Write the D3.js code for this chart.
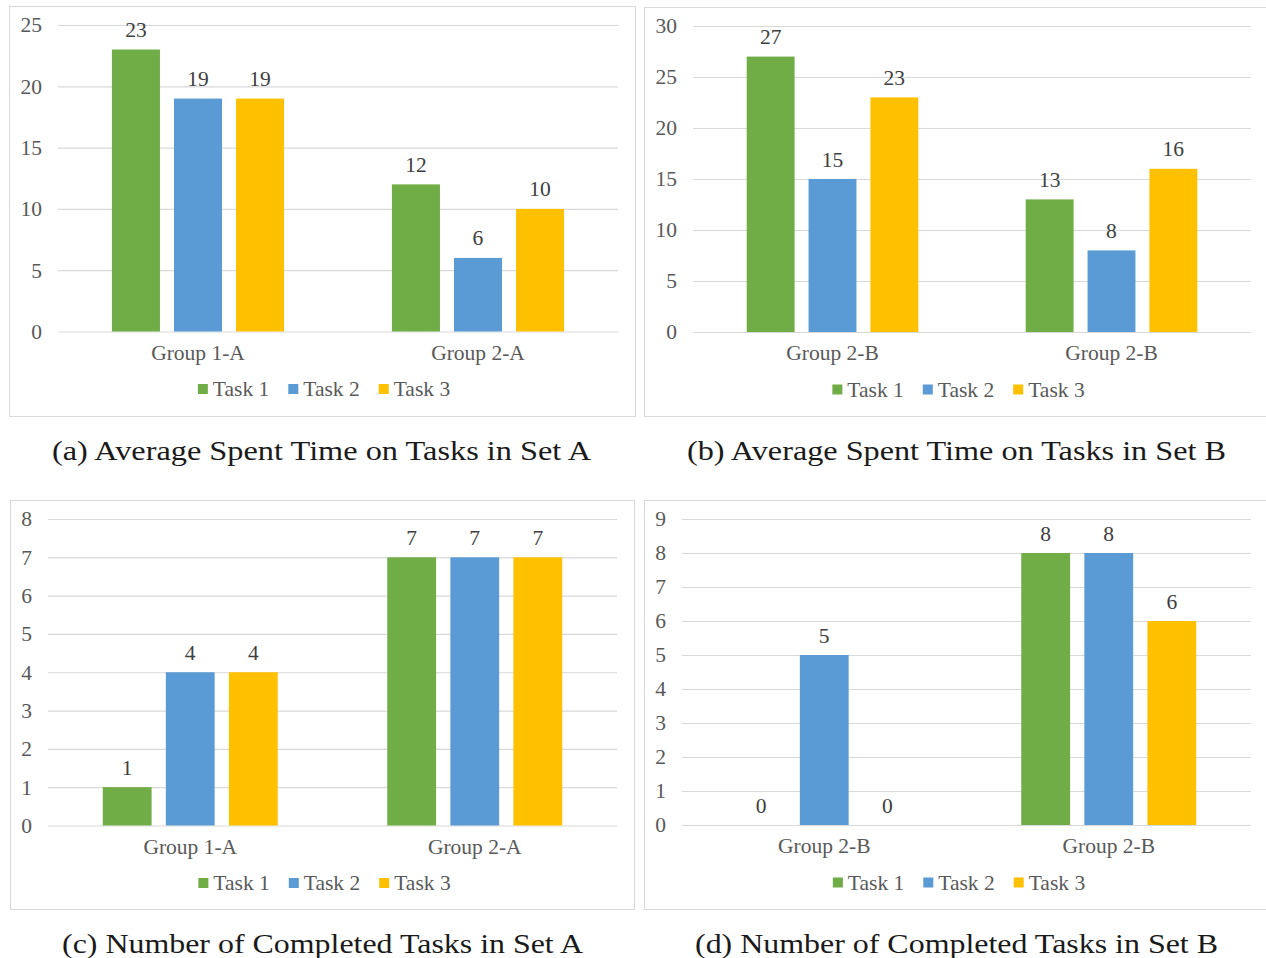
<!DOCTYPE html>
<html>
<head>
<meta charset="utf-8">
<script src="https://cdn.jsdelivr.net/npm/d3@7/dist/d3.min.js"></script>
<style>
  html, body { margin: 0; padding: 0; background: #fff; }
  svg { display: block; }
  text { font-family: "Liberation Serif", "Times New Roman", serif; }
</style>
</head>
<body>
<svg id="fig" width="1266" height="958"></svg>
<script>
// ---- data ----
const tasks = ["Task 1", "Task 2", "Task 3"];
const groupsSetA = ["Group 1-A", "Group 2-A"];
const groupsSetB = ["Group 2-B", "Group 2-B"];

// rows = groups, columns = tasks
const timeSetA = [[23, 19, 19], [12, 6, 10]];
const timeSetB = [[27, 15, 23], [13, 8, 16]];
const doneSetA = [[1, 4, 4], [7, 7, 7]];
const doneSetB = [[0, 5, 0], [8, 8, 6]];

const ticksTimeA = [0, 5, 10, 15, 20, 25];
const ticksTimeB = [0, 5, 10, 15, 20, 25, 30];
const ticksDoneA = [0, 1, 2, 3, 4, 5, 6, 7, 8];
const ticksDoneB = [0, 1, 2, 3, 4, 5, 6, 7, 8, 9];

const captions = [
  "(a) Average Spent Time on Tasks in Set A",
  "(b) Average Spent Time on Tasks in Set B",
  "(c) Number of Completed Tasks in Set A",
  "(d) Number of Completed Tasks in Set B"
];

const taskColors = ["#70AD47", "#5B9BD5", "#FFC000"];

// ---- layout of the four panels ----
const panels = [
  { groups: groupsSetA, values: timeSetA, ticks: ticksTimeA, caption: captions[0],
    box: [9.5, 6.5, 626, 410], plotX: [58, 618], plotY: [331.5, 25],
    cap: [321.5, 450, 539], legendCx: 324 },
  { groups: groupsSetB, values: timeSetB, ticks: ticksTimeB, caption: captions[1],
    box: [644.5, 7.5, 640, 409], plotX: [693, 1251], plotY: [332, 26],
    cap: [956.5, 450, 539], legendCx: 958.5 },
  { groups: groupsSetA, values: doneSetA, ticks: ticksDoneA, caption: captions[2],
    box: [10.5, 500.5, 624, 409], plotX: [48, 617], plotY: [825.5, 519],
    cap: [322.5, 943, 521], legendCx: 324.5 },
  { groups: groupsSetB, values: doneSetB, ticks: ticksDoneB, caption: captions[3],
    box: [644.5, 500.5, 640, 409], plotX: [682, 1251], plotY: [825, 519],
    cap: [956.5, 943, 523], legendCx: 959 }
];

const svg = d3.select("#fig");
const FS = 21.5;

panels.forEach(p => {
  const g = svg.append("g");

  // chart frame
  g.append("rect")
    .attr("x", p.box[0]).attr("y", p.box[1])
    .attr("width", p.box[2]).attr("height", p.box[3])
    .attr("fill", "#fff").attr("stroke", "#d9d9d9").attr("stroke-width", 1);

  const yMax = p.ticks[p.ticks.length - 1];
  const y = d3.scaleLinear().domain([0, yMax]).range(p.plotY);

  const idx = p.groups.map((_, i) => i);
  const x0 = d3.scaleBand().domain(idx).range(p.plotX)
    .paddingInner(0.385).paddingOuter(0.1925);
  const x1 = d3.scaleBand().domain(tasks).range([0, x0.bandwidth()])
    .paddingInner(14 / 62);

  // horizontal gridlines + value labels via a left axis
  const yAxis = d3.axisLeft(y).tickValues(p.ticks)
    .tickSize(-(p.plotX[1] - p.plotX[0])).tickPadding(16).tickFormat(d3.format("d"));
  const ag = g.append("g").attr("transform", `translate(${p.plotX[0]},0)`).call(yAxis);
  ag.select(".domain").remove();
  ag.selectAll(".tick line").attr("stroke", "#d9d9d9").attr("stroke-width", 1.2);
  ag.selectAll(".tick text")
    .attr("fill", "#595959").attr("font-size", FS)
    .attr("font-family", "Liberation Serif, serif");

  // bars
  const grp = g.selectAll("g.grp").data(p.values).join("g")
    .attr("class", "grp")
    .attr("transform", (d, i) => `translate(${x0(i)},0)`);

  grp.selectAll("rect").data(d => d.map((v, j) => ({ v, task: tasks[j], j })))
    .join("rect")
    .attr("x", d => x1(d.task))
    .attr("width", x1.bandwidth())
    .attr("y", d => y(d.v))
    .attr("height", d => y(0) - y(d.v))
    .attr("fill", d => taskColors[d.j]);

  // data labels
  grp.selectAll("text.val").data(d => d.map((v, j) => ({ v, task: tasks[j] })))
    .join("text")
    .attr("class", "val")
    .attr("x", d => x1(d.task) + x1.bandwidth() / 2)
    .attr("y", d => y(d.v) - 12.5)
    .attr("text-anchor", "middle")
    .attr("font-size", FS)
    .attr("fill", "#404040")
    .text(d => d.v);

  // category labels
  g.selectAll("text.cat").data(idx).join("text")
    .attr("class", "cat")
    .attr("x", i => x0(i) + x0.bandwidth() / 2)
    .attr("y", y(0) + 20.5)
    .attr("dy", "0.35em")
    .attr("text-anchor", "middle")
    .attr("font-size", FS)
    .attr("fill", "#595959")
    .text(i => p.groups[i]);

  // legend
  const legY = y(0) + 57.5;
  const lg = g.append("g");
  let cx = 0;
  tasks.forEach((t, j) => {
    lg.append("rect").attr("x", cx).attr("y", legY - 5)
      .attr("width", 10).attr("height", 10).attr("fill", taskColors[j]);
    const tx = lg.append("text").attr("x", cx + 15).attr("y", legY)
      .attr("dy", "0.33em")
      .attr("font-size", FS).attr("fill", "#595959").text(t);
    cx += 15 + tx.node().getComputedTextLength() + 19;
  });
  const legW = cx - 19;
  lg.attr("transform", `translate(${p.legendCx - legW / 2},0)`);

  // caption below the frame
  svg.append("text")
    .attr("x", p.cap[0]).attr("y", p.cap[1])
    .attr("dy", "0.35em")
    .attr("text-anchor", "middle")
    .attr("font-size", 28)
    .attr("fill", "#1a1a1a")
    .attr("textLength", p.cap[2])
    .attr("lengthAdjust", "spacingAndGlyphs")
    .text(p.caption);
});
</script>
</body>
</html>
